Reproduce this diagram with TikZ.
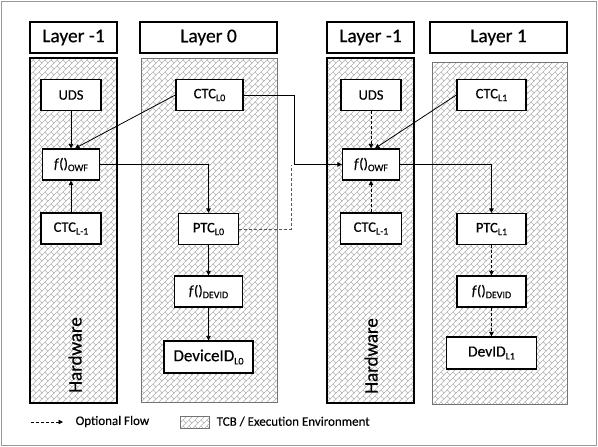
\documentclass[tikz,border=0pt]{standalone}
\usepackage{fontspec}
\setmainfont{Carlito}[FakeBold=0.4]
\usetikzlibrary{arrows.meta,patterns}
\pgfdeclarepatternformonly{tcbbrick}{\pgfpoint{-0.5pt}{-0.5pt}}{\pgfpoint{6.5pt}{6.5pt}}{\pgfpoint{6pt}{6pt}}{%
  \pgfsetlinewidth{0.55pt}%
  \pgfpathmoveto{\pgfpoint{-0.5pt}{-0.5pt}}\pgfpathlineto{\pgfpoint{6.5pt}{6.5pt}}%
  \pgfpathmoveto{\pgfpoint{3pt}{3pt}}\pgfpathlineto{\pgfpoint{6pt}{0pt}}%
  \pgfusepath{stroke}}
\newcommand{\lsub}[1]{\raisebox{-0.4ex}{\fontsize{10}{10}\selectfont #1}}
\newcommand{\fn}{\textit{f}()}
\begin{document}
\begin{tikzpicture}[x=1pt,y=-1pt,
  hdr/.style={draw, line width=1.4pt, minimum height=31pt, inner sep=0pt, font=\fontsize{19.5}{21}\selectfont},
  blk/.style={draw, line width=1.3pt, fill=white, minimum height=31pt, inner sep=0pt, font=\fontsize{14.5}{16}\selectfont},
  hwbody/.style={draw, line width=1.4pt, preaction={fill=white}, pattern=tcbbrick, pattern color=black!30, inner sep=0pt},
  envbody/.style={draw=black!55, line width=0.9pt, preaction={fill=white}, pattern=tcbbrick, pattern color=black!30, inner sep=0pt},
  hwtext/.style={rotate=90, font=\fontsize{19}{21}\selectfont, inner sep=0pt},
  legtext/.style={anchor=west, font=\fontsize{13}{15}\selectfont, inner sep=0pt},
  arr/.style={-{Triangle[length=4.5pt,width=4.5pt]}, line width=0.8pt},
  opt/.style={arr, dash pattern=on 3pt off 2pt},
  optline/.style={line width=0.8pt, draw=black!65, dash pattern=on 3pt off 2pt}
]
\useasboundingbox (0,0) rectangle (598,447);
\draw[draw=black!40, line width=1.5pt] (1.5,1.5) rectangle (596.5,445.5);

% headers
\node[hdr, minimum width=87pt] (hA) at (73.5,37.5) {Layer -1};
\node[hdr, minimum width=137pt] (hB) at (208.5,37.5) {Layer 0};
\node[hdr, minimum width=87pt] (hC) at (370.5,37.5) {Layer -1};
\node[hdr, minimum width=137pt] (hD) at (498.5,37.5) {Layer 1};

% bodies
\node[hwbody, minimum width=87pt, minimum height=345pt] (bA) at (73.5,230.5) {};
\node[envbody, minimum width=136pt, minimum height=344pt] (bB) at (209,230) {};
\node[hwbody, minimum width=87pt, minimum height=345pt] (bC) at (370.5,230.5) {};
\node[envbody, minimum width=135pt, minimum height=342pt] (bD) at (499.5,233) {};

\node[hwtext] (hwA) at (75,355) {Hardware};
\node[hwtext] (hwC) at (371,356) {Hardware};

% left hardware column
\node[blk, minimum width=60pt] (uds1) at (71,95) {UDS};
\node[blk, minimum width=57pt] (f1) at (71,164.5) {\fn\lsub{OWF}};
\node[blk, minimum width=60pt] (ctcm1) at (71,228.5) {CTC\lsub{L-1}};

% layer 0
\node[blk, minimum width=67pt] (ctc0) at (209.5,95) {CTC\lsub{L0}};
\node[blk, minimum width=60pt] (ptc0) at (208.5,229) {PTC\lsub{L0}};
\node[blk, minimum width=68pt] (fdev0) at (208.5,291.5) {\fn\lsub{DEVID}};
\node[blk, minimum width=89pt, minimum height=32pt, font=\fontsize{17}{19}\selectfont] (devid0) at (208.5,357) {DeviceID\lsub{L0}};

% right hardware column
\node[blk, minimum width=60pt] (uds2) at (371,95) {UDS};
\node[blk, minimum width=57pt] (f2) at (371,164.5) {\fn\lsub{OWF}};
\node[blk, minimum width=61pt] (ctcm2) at (371,228.5) {CTC\lsub{L-1}};

% layer 1
\node[blk, minimum width=69pt] (ctc1) at (491.5,95) {CTC\lsub{L1}};
\node[blk, minimum width=69pt] (ptc1) at (491.5,229) {PTC\lsub{L1}};
\node[blk, minimum width=69pt] (fdev1) at (491.5,291.5) {\fn\lsub{DEVID}};
\node[blk, minimum width=90pt, minimum height=32pt, font=\fontsize{15.5}{17}\selectfont] (devid1) at (491.5,353) {DevID\lsub{L1}};

% connectors left
\draw[arr] (uds1) -- (f1);
\draw[arr] (ctcm1) -- (f1);
\draw[arr] (ctc0.west) -- ([xshift=4pt]f1.north);
\draw[arr] (f1.east) -| (ptc0.north);
\draw[arr] (ptc0) -- (fdev0);
\draw[arr] (fdev0) -- (devid0);

% cross connectors
\coordinate (j1) at (294,0);
\coordinate (j2) at (291,0);
\draw[arr] (ctc0.east) -| (j1 |- f2.west) -- (f2.west);
\draw[optline] (ptc0.east) -| (j2 |- f2.west);

% connectors right
\draw[opt] (uds2) -- (f2);
\draw[opt] (ctcm2) -- (f2);
\draw[arr] (ctc1.west) -- ([xshift=4pt]f2.north);
\draw[arr] (f2.east) -| (ptc1.north);
\draw[opt] (ptc1) -- (fdev1);
\draw[opt] (fdev1) -- (devid1);

% legend
\coordinate (la) at (31,422);
\coordinate (lb) at (63,422);
\draw[opt] (la) -- (lb);
\node[legtext] (lt1) at (75.5,421.5) {Optional Flow};
\node[envbody, minimum width=29pt, minimum height=12pt] (lbox) at (194.5,422) {};
\node[legtext] (lt2) at (216.5,421.5) {TCB / Execution Environment};
\end{tikzpicture}
\end{document}
